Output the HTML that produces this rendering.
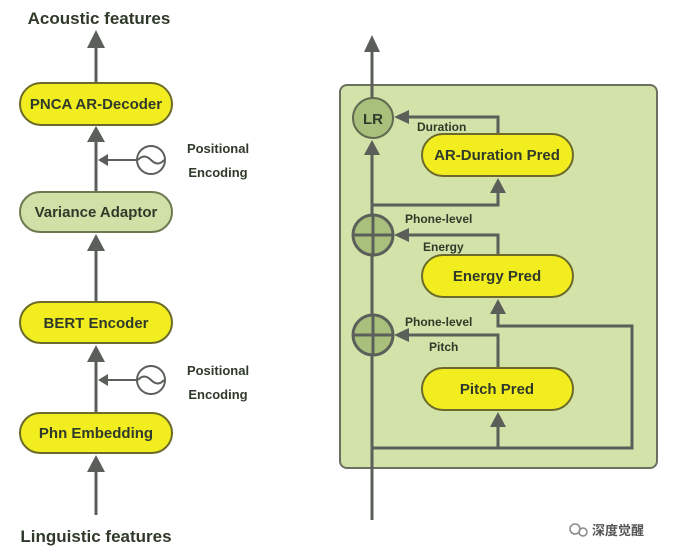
<!DOCTYPE html>
<html><head><meta charset="utf-8"><style>
html,body{margin:0;padding:0;background:#fff}
svg{display:block}
text{font-family:"Liberation Sans",sans-serif;font-weight:bold;fill:#2f3a2a}
</style></head><body>
<svg width="676" height="557" viewBox="0 0 676 557" xmlns="http://www.w3.org/2000/svg">
<defs>
<marker id="ah" markerWidth="10" markerHeight="10" refX="5" refY="5" orient="auto" markerUnits="userSpaceOnUse"><path d="M0,0 L10,5 L0,10 z" fill="#5a5f5a"/></marker>
</defs>
<g stroke="#5a5f5a" stroke-width="3" fill="none">
<!-- left column -->
<line x1="96" y1="83" x2="96" y2="46"/>
<path d="M87,48 L96,30 L105,48 z" fill="#5a5f5a" stroke="none"/>
<line x1="96" y1="192" x2="96" y2="141"/>
<path d="M87,142 L96,126 L105,142 z" fill="#5a5f5a" stroke="none"/>
<line x1="96" y1="302" x2="96" y2="250"/>
<path d="M87,251 L96,234 L105,251 z" fill="#5a5f5a" stroke="none"/>
<line x1="96" y1="413" x2="96" y2="361"/>
<path d="M87,362 L96,345 L105,362 z" fill="#5a5f5a" stroke="none"/>
<line x1="96" y1="515" x2="96" y2="471"/>
<path d="M87,472 L96,455 L105,472 z" fill="#5a5f5a" stroke="none"/>
<line x1="137" y1="160" x2="108" y2="160" stroke-width="2"/>
<path d="M108,154 L98,160 L108,166 z" fill="#5a5f5a" stroke="none"/>
<line x1="137" y1="380" x2="108" y2="380" stroke-width="2"/>
<path d="M108,374 L98,380 L108,386 z" fill="#5a5f5a" stroke="none"/>
</g>
<g stroke="#5a5f5a" stroke-width="2" fill="#fff">
<circle cx="151" cy="160" r="14"/>
<circle cx="151" cy="380" r="14"/>
</g>
<g stroke="#5a5f5a" stroke-width="2" fill="none">
<path d="M138,160 q6,-7 13,0 q7,7 13,0"/>
<path d="M138,380 q6,-7 13,0 q7,7 13,0"/>
</g>
<rect x="20" y="83" width="152" height="42" rx="21" fill="#f2ed1f" stroke="#6b6a2a" stroke-width="2"/>
<rect x="20" y="192" width="152" height="40" rx="20" fill="#d1e0a6" stroke="#6b7a50" stroke-width="2"/>
<rect x="20" y="302" width="152" height="41" rx="20.5" fill="#f2ed1f" stroke="#6b6a2a" stroke-width="2"/>
<rect x="20" y="413" width="152" height="40" rx="20" fill="#f2ed1f" stroke="#6b6a2a" stroke-width="2"/>
<text x="96" y="109" font-size="15" text-anchor="middle">PNCA AR-Decoder</text>
<text x="96" y="217" font-size="15" text-anchor="middle">Variance Adaptor</text>
<text x="96" y="328" font-size="15" text-anchor="middle">BERT Encoder</text>
<text x="96" y="438" font-size="15" text-anchor="middle">Phn Embedding</text>
<text x="99" y="24" font-size="17" text-anchor="middle">Acoustic features</text>
<text x="96" y="542" font-size="17" text-anchor="middle">Linguistic features</text>
<text x="218" y="153" font-size="13" text-anchor="middle">Positional</text>
<text x="218" y="177" font-size="13" text-anchor="middle">Encoding</text>
<text x="218" y="375" font-size="13" text-anchor="middle">Positional</text>
<text x="218" y="399" font-size="13" text-anchor="middle">Encoding</text>
<!-- right panel -->
<rect x="340" y="85" width="317" height="383" rx="7" fill="#d3e2a8" stroke="#6b7060" stroke-width="2"/>
<g stroke="#5a5f5a" stroke-width="3" fill="none">
<line x1="372" y1="520" x2="372" y2="152"/>
<line x1="372" y1="98" x2="372" y2="50"/>
<path d="M364,52 L372,35 L380,52 z" fill="#5a5f5a" stroke="none"/>
<path d="M364,155 L372,140 L380,155 z" fill="#5a5f5a" stroke="none"/>
<polyline points="498,134 498,117 408,117"/>
<path d="M409,110 L394,117 L409,124 z" fill="#5a5f5a" stroke="none"/>
<polyline points="372,205 498,205 498,192"/>
<path d="M490,193 L498,178 L506,193 z" fill="#5a5f5a" stroke="none"/>
<polyline points="498,255 498,235 408,235"/>
<path d="M409,228 L394,235 L409,242 z" fill="#5a5f5a" stroke="none"/>
<polyline points="498,368 498,335 408,335"/>
<path d="M409,328 L394,335 L409,342 z" fill="#5a5f5a" stroke="none"/>
<polyline points="372,448 632,448 632,326 498,326 498,313"/>
<path d="M490,314 L498,299 L506,314 z" fill="#5a5f5a" stroke="none"/>
<line x1="498" y1="448" x2="498" y2="426"/>
<path d="M490,427 L498,412 L506,427 z" fill="#5a5f5a" stroke="none"/>
</g>
<circle cx="373" cy="118" r="20" fill="#a9c07c" stroke="#5f6a50" stroke-width="2"/>
<text x="373" y="124" font-size="15" text-anchor="middle">LR</text>
<g stroke="#5a5f5a" stroke-width="3" fill="#a9c07c">
<circle cx="373" cy="235" r="20"/>
<circle cx="373" cy="335" r="20"/>
<line x1="353" y1="235" x2="393" y2="235"/>
<line x1="373" y1="215" x2="373" y2="255"/>
<line x1="353" y1="335" x2="393" y2="335"/>
<line x1="373" y1="315" x2="373" y2="355"/>
</g>
<rect x="422" y="134" width="151" height="42" rx="21" fill="#f2ed1f" stroke="#6b6a2a" stroke-width="2"/>
<rect x="422" y="255" width="151" height="42" rx="21" fill="#f2ed1f" stroke="#6b6a2a" stroke-width="2"/>
<rect x="422" y="368" width="151" height="42" rx="21" fill="#f2ed1f" stroke="#6b6a2a" stroke-width="2"/>
<text x="497" y="160" font-size="15" text-anchor="middle">AR-Duration Pred</text>
<text x="497" y="281" font-size="15" text-anchor="middle">Energy Pred</text>
<text x="497" y="394" font-size="15" text-anchor="middle">Pitch Pred</text>
<text x="417" y="131" font-size="12">Duration</text>
<text x="405" y="223" font-size="12">Phone-level</text>
<text x="423" y="251" font-size="12">Energy</text>
<text x="405" y="326" font-size="12">Phone-level</text>
<text x="429" y="351" font-size="12">Pitch</text>
<!-- watermark -->
<circle cx="575" cy="529" r="5" fill="none" stroke="#888" stroke-width="1.5"/>
<circle cx="583" cy="532" r="4" fill="none" stroke="#888" stroke-width="1.5"/>
<text x="592" y="535" font-size="13" font-weight="normal" style="fill:#555;font-family:'Liberation Sans','Noto Sans CJK SC',sans-serif">深度觉醒</text>
</svg>
</body></html>
